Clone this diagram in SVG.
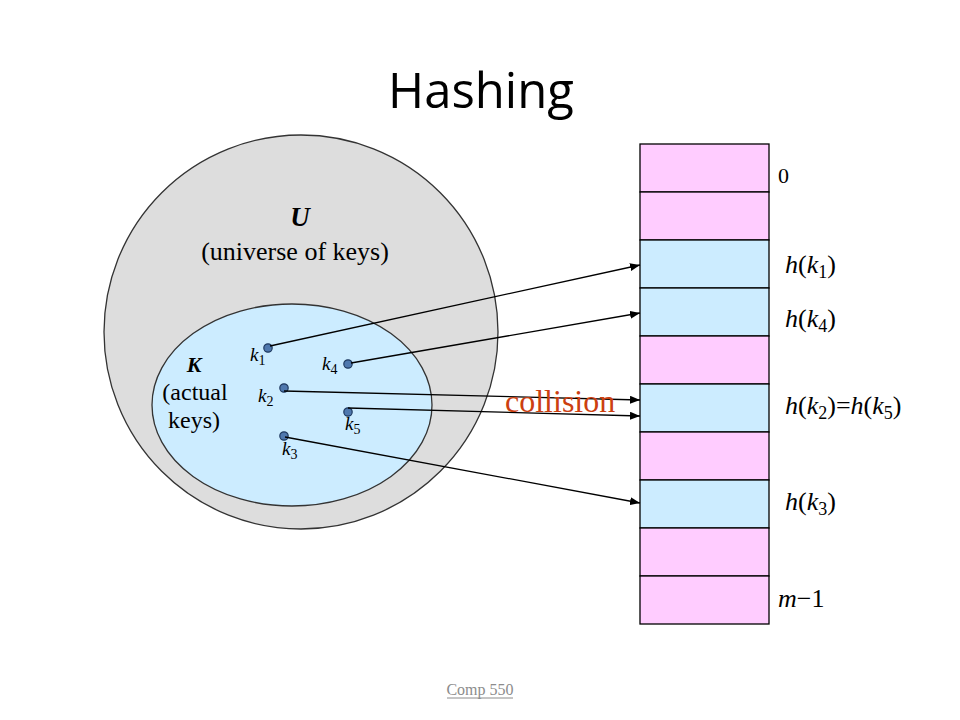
<svg xmlns="http://www.w3.org/2000/svg" width="960" height="720" viewBox="0 0 960 720">
<defs>
<style>
.serif{font-family:"Liberation Serif","Times New Roman",serif;fill:#000}
.it{font-style:italic}
.cellp{fill:#FFCCFF;stroke:#000;stroke-width:1.3}
.cellb{fill:#CCECFF;stroke:#000;stroke-width:1.3}
.dot{fill:#4F78AE;stroke:#1F3A60;stroke-width:1.2}
.conn{stroke:#000;stroke-width:1.3;fill:none;marker-end:url(#ah)}
.sub{font-size:14px}
.rsub{font-size:18px}
</style>
<marker id="ah" viewBox="0 0 10 8" refX="10" refY="4" markerWidth="10" markerHeight="8" markerUnits="userSpaceOnUse" orient="auto">
<path d="M0,0 L10,4 L0,8 z" fill="#000"/>
</marker>
</defs>
<rect width="960" height="720" fill="#fff"/>
<text x="481" y="108" text-anchor="middle" font-family="'Open Sans','Liberation Sans',sans-serif" font-size="49" fill="#000">Hashing</text>

<g id="universe">
<circle cx="301" cy="332" r="197" fill="#DDDDDD" stroke="#333" stroke-width="1.3"/>
<text class="serif" x="300" y="226" text-anchor="middle" font-size="27" font-weight="bold" font-style="italic">U</text>
<text class="serif" x="295" y="260" text-anchor="middle" font-size="26">(universe of keys)</text>
</g>

<g id="actual-keys">
<ellipse cx="292" cy="405" rx="140" ry="101" fill="#CCECFF" stroke="#333" stroke-width="1.3"/>
<text class="serif" x="194" y="372" text-anchor="middle" font-size="22" font-weight="bold" font-style="italic">K</text>
<text class="serif" x="195" y="400" text-anchor="middle" font-size="24">(actual</text>
<text class="serif" x="194" y="428" text-anchor="middle" font-size="24">keys)</text>
</g>

<g id="key-k1"><circle class="dot" cx="268" cy="348" r="4.2"/><text class="serif it" x="250" y="361" font-size="19">k<tspan class="sub" dy="4" font-style="normal">1</tspan></text></g>
<g id="key-k4"><circle class="dot" cx="348" cy="364" r="4.2"/><text class="serif it" x="322" y="370" font-size="19">k<tspan class="sub" dy="4" font-style="normal">4</tspan></text></g>
<g id="key-k2"><circle class="dot" cx="284" cy="388" r="4.2"/><text class="serif it" x="258" y="402" font-size="19">k<tspan class="sub" dy="4" font-style="normal">2</tspan></text></g>
<g id="key-k5"><circle class="dot" cx="348" cy="412" r="4.2"/><text class="serif it" x="345" y="430" font-size="19">k<tspan class="sub" dy="4" font-style="normal">5</tspan></text></g>
<g id="key-k3"><circle class="dot" cx="284" cy="436" r="4.2"/><text class="serif it" x="282" y="455" font-size="19">k<tspan class="sub" dy="4" font-style="normal">3</tspan></text></g>

<g id="table">
<rect class="cellp" x="640" y="144" width="129" height="48"/>
<rect class="cellp" x="640" y="192" width="129" height="48"/>
<rect class="cellb" x="640" y="240" width="129" height="48"/>
<rect class="cellb" x="640" y="288" width="129" height="48"/>
<rect class="cellp" x="640" y="336" width="129" height="48"/>
<rect class="cellb" x="640" y="384" width="129" height="48"/>
<rect class="cellp" x="640" y="432" width="129" height="48"/>
<rect class="cellb" x="640" y="480" width="129" height="48"/>
<rect class="cellp" x="640" y="528" width="129" height="48"/>
<rect class="cellp" x="640" y="576" width="129" height="48"/>
</g>

<g id="slot-labels">
<text class="serif" x="778" y="183" font-size="22">0</text>
<text class="serif" x="785" y="273" font-size="26"><tspan font-style="italic">h</tspan>(<tspan font-style="italic">k</tspan><tspan class="rsub" dy="5">1</tspan><tspan dy="-5">)</tspan></text>
<text class="serif" x="785" y="327" font-size="26"><tspan font-style="italic">h</tspan>(<tspan font-style="italic">k</tspan><tspan class="rsub" dy="5">4</tspan><tspan dy="-5">)</tspan></text>
<text class="serif" x="785" y="414" font-size="26"><tspan font-style="italic">h</tspan>(<tspan font-style="italic">k</tspan><tspan class="rsub" dy="5">2</tspan><tspan dy="-5">)=</tspan><tspan font-style="italic">h</tspan>(<tspan font-style="italic">k</tspan><tspan class="rsub" dy="5">5</tspan><tspan dy="-5">)</tspan></text>
<text class="serif" x="785" y="510" font-size="26"><tspan font-style="italic">h</tspan>(<tspan font-style="italic">k</tspan><tspan class="rsub" dy="5">3</tspan><tspan dy="-5">)</tspan></text>
<text class="serif" x="778" y="607" font-size="26"><tspan font-style="italic">m</tspan>−1</text>
</g>

<g id="connectors">
<line class="conn" x1="270" y1="346" x2="640" y2="265"/>
<line class="conn" x1="351" y1="363" x2="640" y2="313"/>
<line class="conn" x1="284" y1="391" x2="640" y2="400"/>
<line class="conn" x1="348" y1="408" x2="640" y2="416"/>
<line class="conn" x1="285" y1="437" x2="640" y2="503"/>
</g>

<text class="serif" x="505" y="412" font-size="32" style="fill:#CC4010">collision</text>

<g id="footer">
<text class="serif" x="480" y="695" text-anchor="middle" font-size="16" style="fill:#8C8C8C">Comp 550</text>
<line x1="447" y1="698" x2="513" y2="698" stroke="#8C8C8C" stroke-width="1"/>
</g>
</svg>
